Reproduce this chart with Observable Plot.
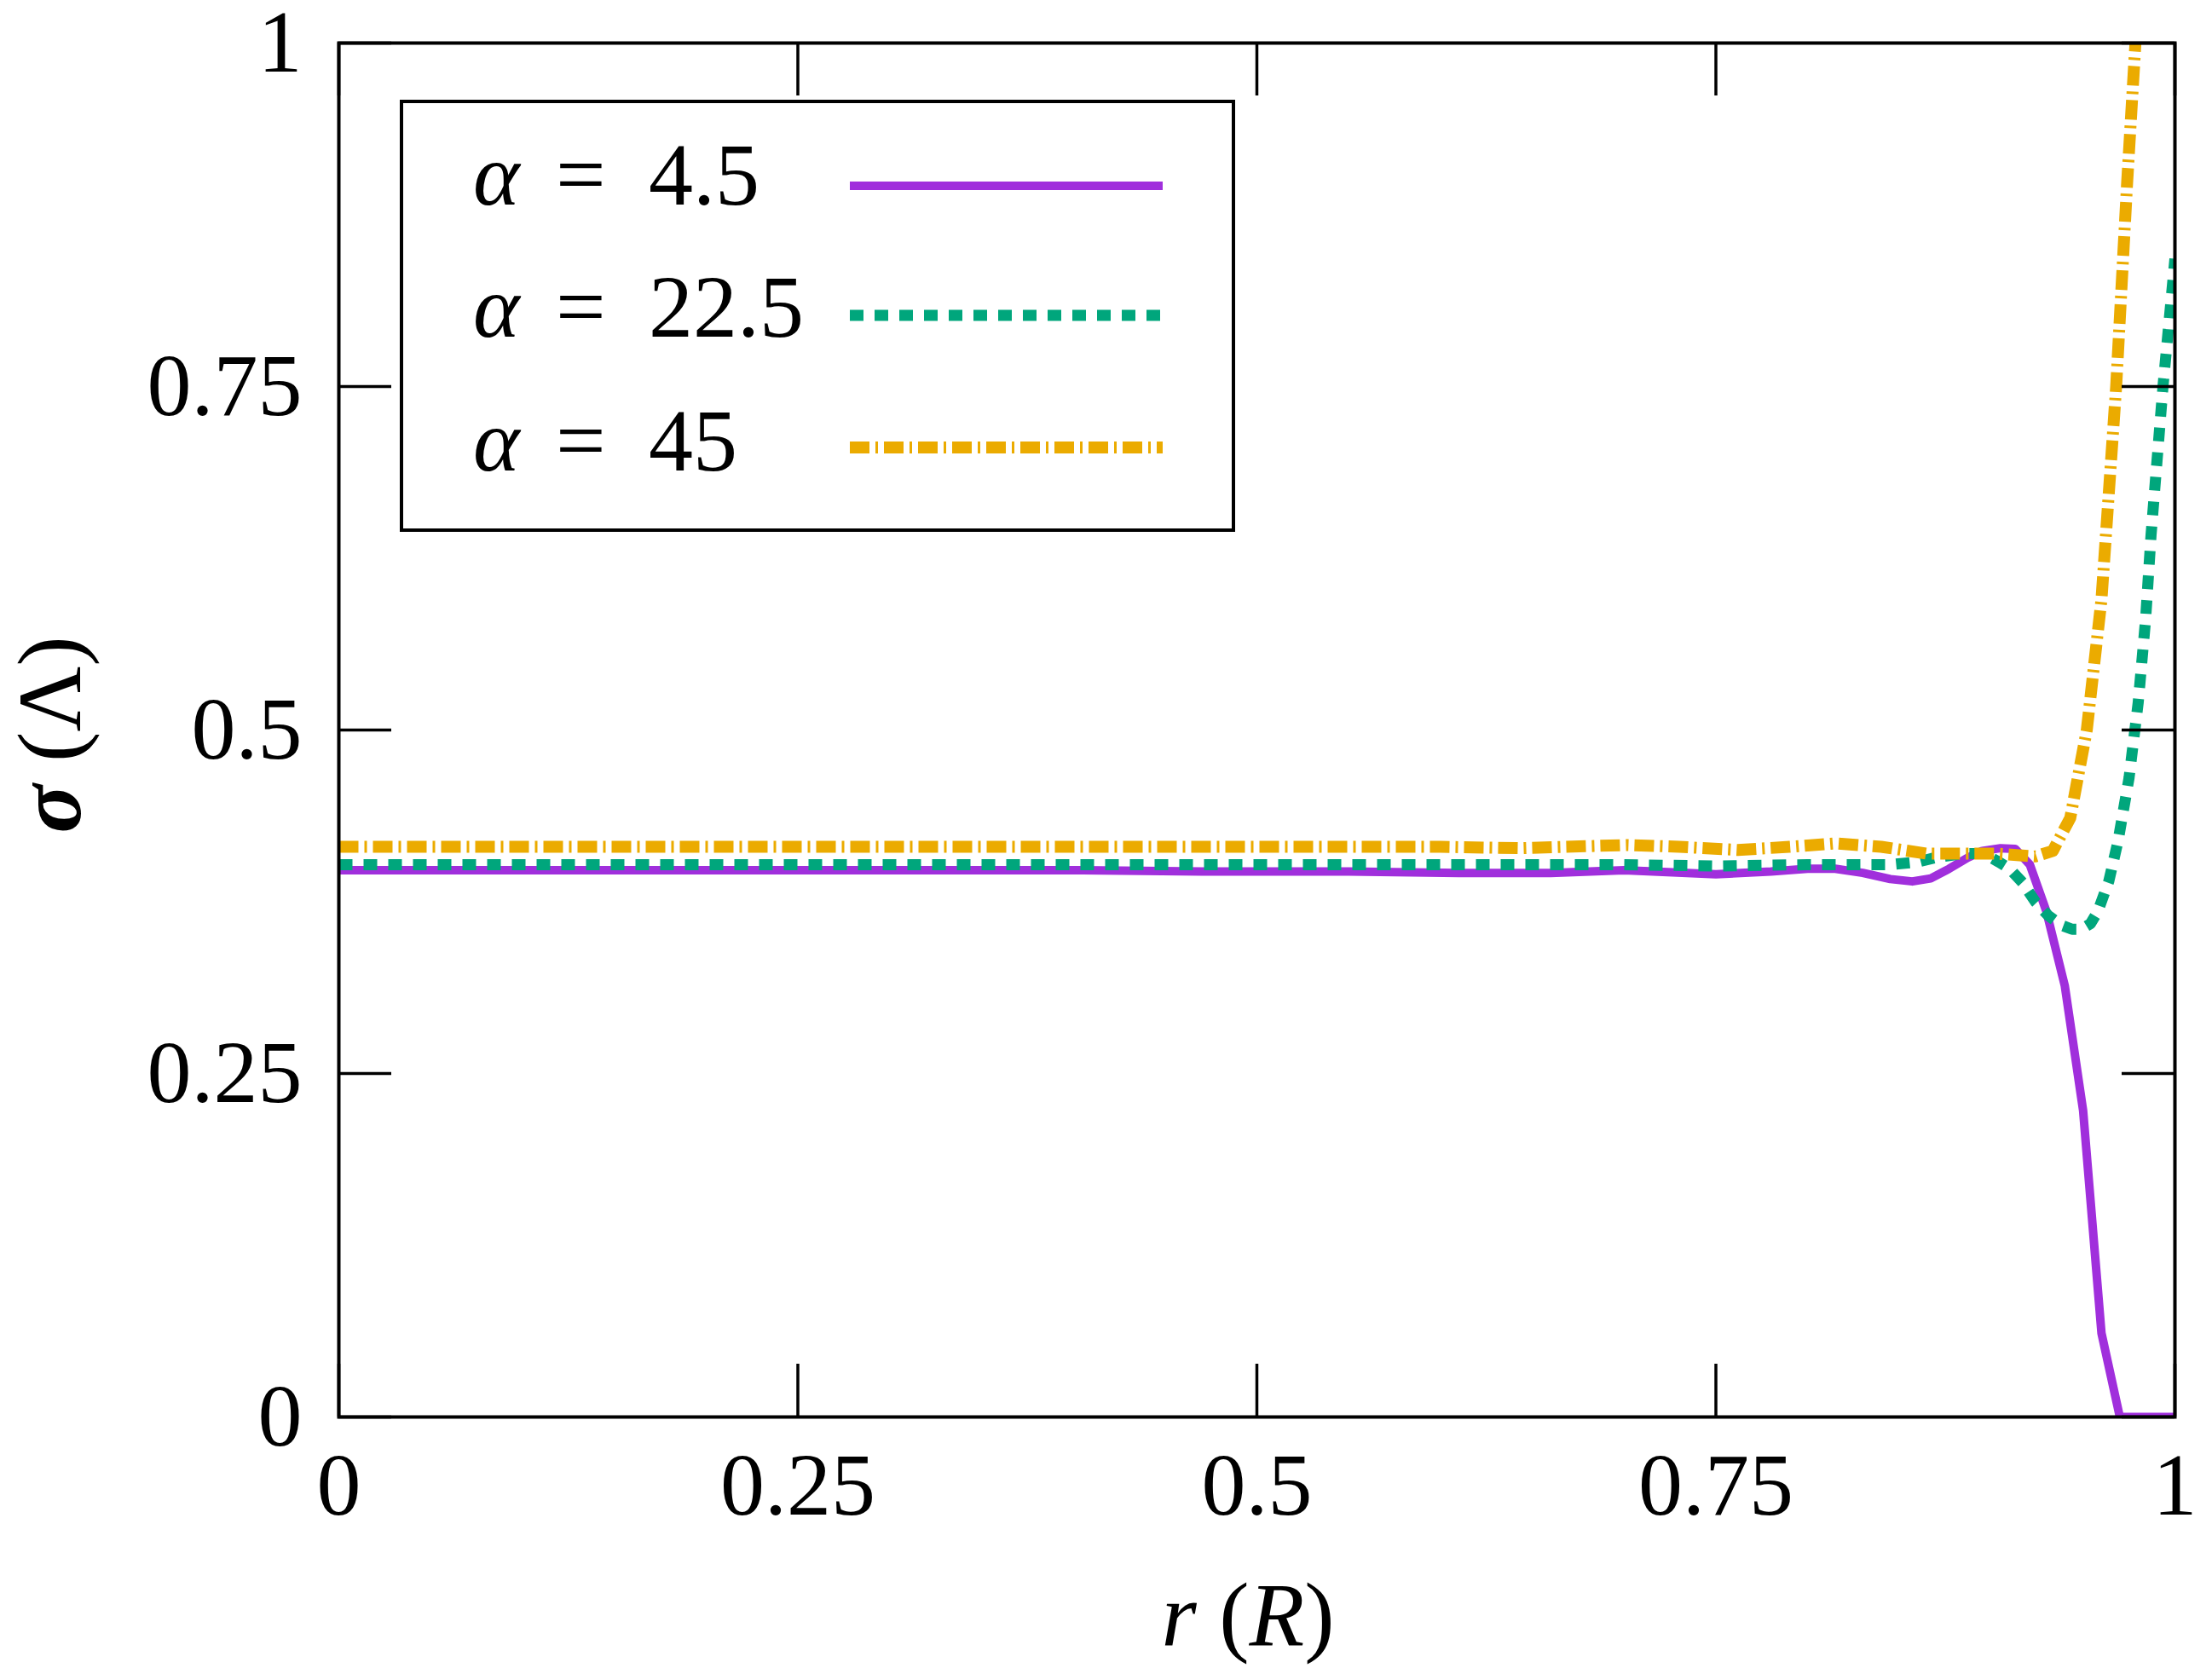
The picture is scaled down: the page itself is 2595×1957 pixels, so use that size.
<!DOCTYPE html>
<html><head><meta charset="utf-8">
<script src="https://cdn.jsdelivr.net/npm/d3@7"></script>
<script src="https://cdn.jsdelivr.net/npm/@observablehq/plot@0.6"></script>
<style>body{margin:0;background:#fff} #chart{position:relative;width:2595px;height:1957px}</style>
</head><body><div id="chart"></div>
<script>
// ---- data ----
const xTicks = [0, 0.25, 0.5, 0.75, 1];
const yTicks = [0, 0.25, 0.5, 0.75, 1];
const alphaLabels = ["4.5", "22.5", "45"];
const colors = ["#a02fdc", "#00a67c", "#ebab00"];

// alpha = 4.5
const rA = [0, 0.1, 0.2, 0.3, 0.4, 0.47, 0.55, 0.61, 0.66, 0.70, 0.75, 0.78, 0.80, 0.815, 0.83, 0.845, 0.857, 0.867, 0.877, 0.887, 0.895, 0.905, 0.913, 0.921, 0.930, 0.940, 0.950, 0.960, 0.970, 0.980, 0.990, 1.0];
const sigmaA = [0.398, 0.398, 0.398, 0.398, 0.398, 0.397, 0.397, 0.396, 0.396, 0.398, 0.395, 0.397, 0.399, 0.399, 0.396, 0.3915, 0.3898, 0.392, 0.399, 0.407, 0.412, 0.414, 0.4135, 0.402, 0.368, 0.314, 0.223, 0.061, 0, 0, 0, 0];

// alpha = 22.5
const rB = [0, 0.2, 0.4, 0.6, 0.7, 0.75, 0.8, 0.845, 0.86, 0.871, 0.885, 0.896, 0.904, 0.910, 0.917, 0.924, 0.931, 0.938, 0.944, 0.949, 0.954, 0.958, 0.964, 0.969, 0.975, 0.980, 0.984, 0.987, 0.9935, 1.0];
const sigmaB = [0.402, 0.402, 0.402, 0.402, 0.402, 0.401, 0.402, 0.402, 0.404, 0.4076, 0.410, 0.410, 0.404, 0.399, 0.389, 0.375, 0.365, 0.358, 0.355, 0.355, 0.359, 0.368, 0.390, 0.419, 0.465, 0.520, 0.580, 0.642, 0.750, 0.843];

// alpha = 45
const rC = [0, 0.2, 0.4, 0.6, 0.643, 0.702, 0.73, 0.762, 0.79, 0.815, 0.84, 0.865, 0.884, 0.904, 0.924, 0.9335, 0.943, 0.952, 0.960, 0.968, 0.974, 0.9785];
const sigmaC = [0.415, 0.415, 0.415, 0.415, 0.414, 0.4163, 0.415, 0.4127, 0.415, 0.4175, 0.415, 0.410, 0.410, 0.410, 0.408, 0.412, 0.436, 0.500, 0.595, 0.750, 0.899, 1.0];

// ---- layout ----
const W = 2595, H = 1957, mL = 397, mR = 44, mT = 50, mB = 295;
const innerW = W - mL - mR, innerH = H - mT - mB;
const TICK = 62;
const FONT = "'Liberation Serif', 'DejaVu Serif', serif";
const dashes = [null, "16,13", "23,7,3,7"];
const widths = [10, 13, 14];

const rows = (rs, ss) => rs.map((r, i) => ({r, sigma: ss[i]}));
const seriesData = [rows(rA, sigmaA), rows(rB, sigmaB), rows(rC, sigmaC)];

const chart = Plot.plot({
  width: W, height: H,
  marginLeft: mL, marginRight: mR, marginTop: mT, marginBottom: mB,
  style: {fontFamily: FONT, background: "#fff", color: "#000"},
  x: {domain: [0, 1]},
  y: {domain: [0, 1]},
  marks: [
    ...seriesData.map((d, i) => Plot.line(d, {
      x: "r", y: "sigma", stroke: colors[i], strokeWidth: widths[i],
      strokeDasharray: dashes[i] ?? undefined, strokeLinecap: "butt", strokeLinejoin: "round",
      clip: "frame"
    })),
    Plot.tickX(xTicks, {x: d => d, insetTop: innerH - TICK, stroke: "#000", strokeWidth: 3.5}),
    Plot.tickX(xTicks, {x: d => d, insetBottom: innerH - TICK, stroke: "#000", strokeWidth: 3.5}),
    Plot.tickY(yTicks, {y: d => d, insetRight: innerW - TICK, stroke: "#000", strokeWidth: 3.5}),
    Plot.tickY(yTicks, {y: d => d, insetLeft: innerW - TICK, stroke: "#000", strokeWidth: 3.5}),
    Plot.frame({stroke: "#000", strokeWidth: 4}),
    Plot.axisX(xTicks, {tickSize: 0, tickPadding: 41, fontSize: 104, label: null, tickFormat: d => String(d)}),
    Plot.axisY(yTicks, {tickSize: 0, tickPadding: 43, fontSize: 104, label: null, tickFormat: d => String(d)})
  ]
});
document.getElementById("chart").appendChild(chart);

const svg = d3.select(chart);
const xs = chart.scale("x"), ys = chart.scale("y");

// x-axis label
const xl = svg.append("text")
  .attr("x", xs.apply(0.5) - 10).attr("y", 1930)
  .attr("text-anchor", "middle").attr("font-family", FONT).attr("font-size", 106).attr("fill", "#000");
xl.append("tspan").attr("font-style", "italic").text("r");
xl.append("tspan").text(" (");
xl.append("tspan").attr("font-style", "italic").text("R");
xl.append("tspan").text(")");

// y-axis label
const yl = svg.append("text")
  .attr("transform", `translate(94,${(ys.apply(0) + ys.apply(1)) / 2 + 6}) rotate(-90)`)
  .attr("text-anchor", "middle").attr("font-family", FONT).attr("font-size", 106).attr("fill", "#000");
yl.append("tspan").attr("font-style", "italic").attr("font-weight", "bold").text("σ");
yl.append("tspan").text(" (Λ)");

// legend
const lg = svg.append("g").attr("text-anchor", "start");
lg.append("rect").attr("x", 471).attr("y", 119).attr("width", 976).attr("height", 503)
  .attr("fill", "#fff").attr("stroke", "#000").attr("stroke-width", 4);
const lineY = [218, 370, 525], baseY = [240, 395, 552];
alphaLabels.forEach((lab, i) => {
  const t = lg.append("text").attr("y", baseY[i]).attr("text-anchor", "start")
    .attr("font-family", FONT).attr("font-size", 104).attr("fill", "#000");
  t.append("tspan").attr("x", 555).attr("font-style", "italic").text("α");
  t.append("tspan").attr("x", 652).text("=");
  t.append("tspan").attr("x", 761).text(lab);
  lg.append("line").attr("x1", 997).attr("x2", 1364).attr("y1", lineY[i]).attr("y2", lineY[i])
    .attr("stroke", colors[i]).attr("stroke-width", widths[i])
    .attr("stroke-dasharray", dashes[i]);
});
</script>
</body></html>
